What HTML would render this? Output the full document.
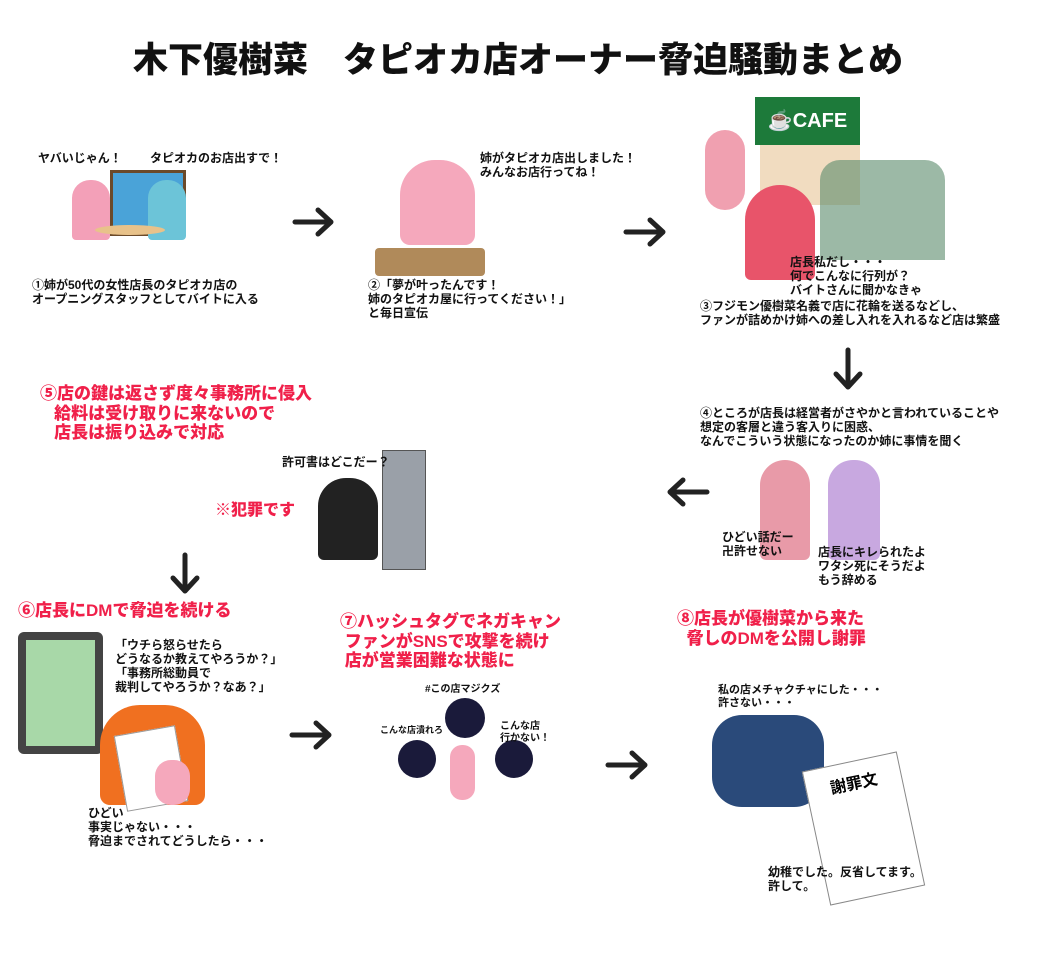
<!DOCTYPE html>
<html><head><meta charset="utf-8"><style>
body{margin:0;width:1050px;height:980px;background:#fff;position:relative;overflow:hidden;font-family:"Liberation Sans","Noto Sans CJK JP",sans-serif;}
.t{position:absolute;font-size:12px;font-weight:bold;line-height:14px;color:#111;white-space:nowrap;z-index:2}
.r{position:absolute;font-size:17px;font-weight:900;line-height:19.5px;color:#f0204a;white-space:nowrap;z-index:2}
.b{position:absolute;}
svg.a{position:absolute;z-index:3}
</style></head><body>
<div class="t" style="left:0;width:1036px;top:40px;text-align:center;font-size:35px;line-height:42px;font-weight:900;">木下優樹菜　タピオカ店オーナー脅迫騒動まとめ</div>

<!-- arrows -->
<svg class="a" style="left:0;top:0" width="1050" height="980">
<g stroke="#222" stroke-width="5" fill="none" stroke-linecap="round" stroke-linejoin="round">
<path d="M295 222 H330 M318 210 L331 222 L318 234"/>
<path d="M626 232 H662 M650 220 L663 232 L650 244"/>
<path d="M848 350 V386 M836 374 L848 387 L860 374"/>
<path d="M707 492 H670 M683 480 L670 492 L683 504"/>
<path d="M185 555 V590 M173 578 L185 591 L197 578"/>
<path d="M292 735 H328 M316 723 L329 735 L316 747"/>
<path d="M608 765 H644 M632 753 L645 765 L632 777"/>
</g></svg>

<!-- panel 1 -->
<div class="b" style="left:110px;top:170px;width:70px;height:60px;background:#4aa3d8;border:3px solid #6b4a2a"></div>
<div class="b" style="left:72px;top:180px;width:38px;height:60px;background:#f3a0b8;border-radius:18px 18px 4px 4px"></div>
<div class="b" style="left:148px;top:180px;width:38px;height:60px;background:#6cc4d8;border-radius:18px 18px 4px 4px"></div>
<div class="b" style="left:95px;top:225px;width:70px;height:10px;background:#e8c28a;border-radius:50%"></div>
<div class="t" style="left:38px;top:151px">ヤバいじゃん！</div>
<div class="t" style="left:150px;top:151px">タピオカのお店出すで！</div>
<div class="t" style="left:32px;top:278px">①姉が50代の女性店長のタピオカ店の<br>オープニングスタッフとしてバイトに入る</div>

<!-- panel 2 -->
<div class="b" style="left:400px;top:160px;width:75px;height:85px;background:#f5a8bc;border-radius:35px 35px 10px 10px"></div>
<div class="b" style="left:375px;top:248px;width:110px;height:28px;background:#b08a5a;border-radius:4px"></div>
<div class="t" style="left:480px;top:151px">姉がタピオカ店出しました！<br>みんなお店行ってね！</div>
<div class="t" style="left:368px;top:278px">②「夢が叶ったんです！<br>姉のタピオカ屋に行ってください！」<br>と毎日宣伝</div>

<!-- panel 3 -->
<div class="b" style="left:755px;top:97px;width:105px;height:48px;background:#1d7a3a;color:#fff;font-weight:bold;font-size:20px;line-height:48px;text-align:center">☕CAFE</div>
<div class="b" style="left:760px;top:145px;width:100px;height:60px;background:#f1dcc0"></div>
<div class="b" style="left:820px;top:160px;width:125px;height:100px;background:#5a8a6a;border-radius:20px 20px 0 0;opacity:.6"></div>
<div class="b" style="left:745px;top:185px;width:70px;height:95px;background:#e8546a;border-radius:35px 35px 6px 6px"></div>
<div class="b" style="left:705px;top:130px;width:40px;height:80px;background:#f0a0b0;border-radius:20px"></div>
<div class="t" style="left:790px;top:255px">店長私だし・・・<br>何でこんなに行列が？<br>バイトさんに聞かなきゃ</div>
<div class="t" style="left:700px;top:299px">③フジモン優樹菜名義で店に花輪を送るなどし、<br>ファンが詰めかけ姉への差し入れを入れるなど店は繁盛</div>

<!-- panel 4 -->
<div class="t" style="left:700px;top:406px">④ところが店長は経営者がさやかと言われていることや<br>想定の客層と違う客入りに困惑、<br>なんでこういう状態になったのか姉に事情を聞く</div>
<div class="b" style="left:760px;top:460px;width:50px;height:100px;background:#e89aa8;border-radius:25px 25px 6px 6px"></div>
<div class="b" style="left:828px;top:460px;width:52px;height:100px;background:#c8a8e0;border-radius:25px 25px 6px 6px"></div>
<div class="t" style="left:722px;top:530px">ひどい話だー<br>卍許せない</div>
<div class="t" style="left:818px;top:545px">店長にキレられたよ<br>ワタシ死にそうだよ<br>もう辞める</div>

<!-- panel 5 -->
<div class="r" style="left:40px;top:384px">⑤店の鍵は返さず度々事務所に侵入<br>&nbsp;&nbsp;&nbsp;給料は受け取りに来ないので<br>&nbsp;&nbsp;&nbsp;店長は振り込みで対応</div>
<div class="t" style="left:282px;top:455px">許可書はどこだー？</div>
<div class="r" style="left:215px;top:501px;font-size:16px">※犯罪です</div>
<div class="b" style="left:382px;top:450px;width:42px;height:118px;background:#9aa0a8;border:1px solid #555"></div>
<div class="b" style="left:318px;top:478px;width:60px;height:82px;background:#222;border-radius:28px 28px 6px 6px"></div>

<!-- panel 6 -->
<div class="r" style="left:18px;top:601px">⑥店長にDMで脅迫を続ける</div>
<div class="b" style="left:18px;top:632px;width:85px;height:122px;background:#444;border-radius:6px"></div>
<div class="b" style="left:26px;top:640px;width:69px;height:106px;background:#a8d8a8"></div>
<div class="t" style="left:115px;top:638px">「ウチら怒らせたら<br>どうなるか教えてやろうか？」<br>「事務所総動員で<br>裁判してやろうか？なあ？」</div>
<div class="b" style="left:100px;top:705px;width:105px;height:100px;background:#f07020;border-radius:40px 40px 10px 10px"></div>
<div class="b" style="left:120px;top:730px;width:60px;height:75px;background:#fff;border:1px solid #999;transform:rotate(-10deg)"></div>
<div class="b" style="left:155px;top:760px;width:35px;height:45px;background:#f5a8bc;border-radius:16px"></div>
<div class="t" style="left:88px;top:806px">ひどい<br>事実じゃない・・・<br>脅迫までされてどうしたら・・・</div>

<!-- panel 7 -->
<div class="r" style="left:340px;top:612px">⑦ハッシュタグでネガキャン<br>&nbsp;ファンがSNSで攻撃を続け<br>&nbsp;店が営業困難な状態に</div>
<div class="t" style="left:425px;top:683px;font-size:10px">#この店マジクズ</div>
<div class="b" style="left:445px;top:698px;width:40px;height:40px;background:#1a1a3a;border-radius:50%"></div>
<div class="b" style="left:398px;top:740px;width:38px;height:38px;background:#1a1a3a;border-radius:50%"></div>
<div class="b" style="left:495px;top:740px;width:38px;height:38px;background:#1a1a3a;border-radius:50%"></div>
<div class="b" style="left:450px;top:745px;width:25px;height:55px;background:#f5a8bc;border-radius:12px"></div>
<div class="t" style="left:380px;top:723px;font-size:9px">こんな店潰れろ</div>
<div class="t" style="left:500px;top:721px;font-size:10px;line-height:12px">こんな店<br>行かない！</div>

<!-- panel 8 -->
<div class="r" style="left:677px;top:609px">⑧店長が優樹菜から来た<br>&nbsp;&nbsp;脅しのDMを公開し謝罪</div>
<div class="t" style="left:718px;top:684px;font-size:11px;line-height:13px">私の店メチャクチャにした・・・<br>許さない・・・</div>
<div class="b" style="left:712px;top:715px;width:112px;height:92px;background:#2a4a7a;border-radius:30px"></div>
<div class="b" style="left:815px;top:760px;width:95px;height:135px;background:#fff;border:1px solid #888;transform:rotate(-12deg)"><div style="font-weight:bold;font-size:16px;text-align:center;margin-top:8px">謝罪文</div></div>
<div class="t" style="left:768px;top:865px">幼稚でした。反省してます。<br>許して。</div>
</body></html>
